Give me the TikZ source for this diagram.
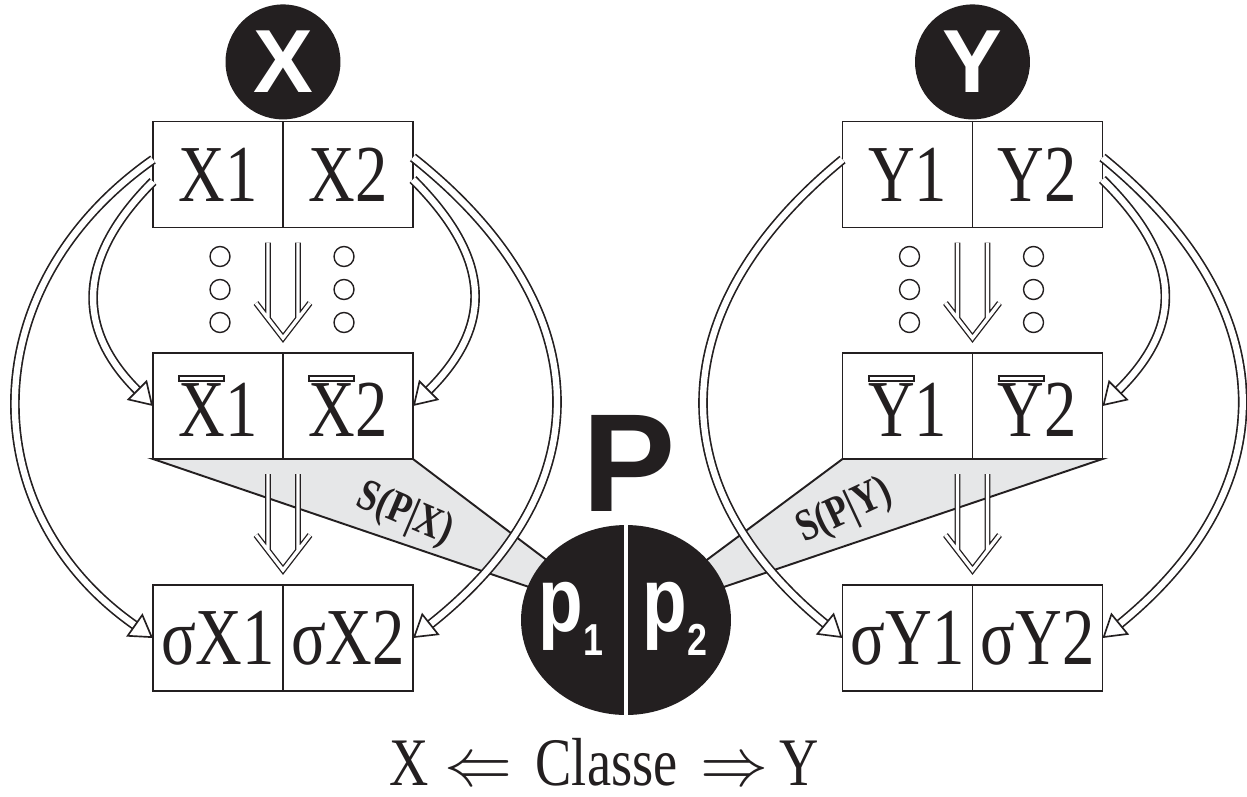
\RequirePackage{fix-cm}
\documentclass[tikz,border=0pt]{standalone}
\usepackage{fontspec}
\setmainfont{Liberation Serif}[FakeStretch=0.8]
\newfontfamily\headsans{Liberation Sans}
\newfontfamily\narrowsans{Liberation Sans}[FakeStretch=0.8]
\usepackage{xcolor}
\usepackage{tikz}
\usetikzlibrary{calc,arrows.meta,positioning,shapes.geometric}
\definecolor{ink}{HTML}{231F20}
\definecolor{wedgegray}{HTML}{E6E7E8}
\newcommand{\barred}[1]{\setbox0\hbox{#1}%
  \rlap{\raisebox{0.70em}{\setlength\fboxsep{0pt}\setlength\fboxrule{1.1pt}%
    \framebox{\rule{0pt}{1.6pt}\rule{\dimexpr\wd0-2.2pt\relax}{0pt}}}}#1}
\tikzset{
  cell/.style={draw=ink,line width=1.1pt,minimum width=2.6cm,minimum height=2.12cm,inner sep=0pt,outer sep=0pt,text=ink,font=\fontsize{46}{48}\selectfont},
  disc/.style={circle,fill=ink,minimum size=2.3cm,inner sep=0pt,text=white,font=\headsans\bfseries\fontsize{51}{51}\selectfont},
  dbl/.style={draw=ink,line width=0.95pt,double=white,double distance=3.6pt,-{Triangle[open,fill=white,length=13pt,width=16pt,line width=0.95pt]}},
  hol/.style={draw=ink,line width=0.75pt,double=white,double distance=1.9pt,line join=miter},
  dot/.style={draw=ink,line width=0.8pt,fill=white},
  wedge/.style={fill=wedgegray,draw=ink,line width=1.1pt,line join=miter},
  lbl/.style={inner sep=0pt,text=ink,font=\bfseries\fontsize{25.6}{26}\selectfont},
  ptext/.style={inner sep=0pt,text=white,font=\narrowsans\bfseries\fontsize{52}{52}\selectfont}
}
\begin{document}
\begin{tikzpicture}[x=0.02cm,y=-0.02cm]
\useasboundingbox (0,0) rectangle (1247,796);
% X column
\node[cell] (xa) at (218,174.5) {X1};
\node[cell,right=0pt of xa] (xb) {X2};
\node[cell] (xma) at (218,406) {\barred{X}1};
\node[cell,right=0pt of xma] (xmb) {\barred{X}2};
\node[cell] (xsa) at (218,638) {σX1};
\node[cell,right=0pt of xsa] (xsb) {σX2};
\node[disc,above=1pt of xa.north east] (xc) {X};
% Y column
\node[cell] (ya) at (907.5,174.5) {Y1};
\node[cell,right=0pt of ya] (yb) {Y2};
\node[cell] (yma) at (907.5,406) {\barred{Y}1};
\node[cell,right=0pt of yma] (ymb) {\barred{Y}2};
\node[cell] (ysa) at (907.5,638) {σY1};
\node[cell,right=0pt of ysa] (ysb) {σY2};
\node[disc,above=1pt of ya.north east] (yc) {Y};
% wedges towards P
\coordinate (pm) at (626,620);
\draw[wedge] (xma.south west) -- (xmb.south east) -- (pm) -- cycle;
\draw[wedge] (yma.south west) -- (ymb.south east) -- (pm) -- cycle;
\node[lbl,rotate=-23] (sx) at (405,515) {S(P|X)};
\node[lbl,rotate=25] (sy) at (845,512) {S(P|Y)};
% dots
\foreach \b in {xa,ya}
  \foreach \dx in {67,191}
    \foreach \dy in {29,62,95}
      \draw[dot] ($(\b.south west)+(\dx,\dy)$) circle (0.2cm);
% hollow down arrows
\foreach \a/\b in {xa/xma,xma/xsa,ya/yma,yma/ysa}{
  \coordinate (tip) at ($(\b.north east)+(0,-15)$);
  \draw[hol] ($(\a.south east)+(-15,15)$) -- ($(tip)+(-15,-20)$)
    ($(\a.south east)+(15,15)$) -- ($(tip)+(15,-20)$)
    ($(tip)+(-27,-35)$) -- (tip) -- ($(tip)+(27,-35)$);
}
% curved arrows
\draw[dbl] ([yshift=0.3cm]xa.west) .. controls +(-181,127) and +(-181,-127) .. (xsa.west);
\draw[dbl] ([yshift=-0.14cm]xa.west) .. controls +(-77,77) and +(-77,-77) .. (xma.west);
\draw[dbl] ([yshift=0.34cm]xb.east) .. controls +(189,150) and +(189,-150) .. (xsb.east);
\draw[dbl] ([yshift=-0.1cm]xb.east) .. controls +(80,80) and +(80,-80) .. (xmb.east);
\draw[dbl] ([yshift=0.3cm]ya.west) .. controls +(-183,150) and +(-183,-150) .. (ysa.west);
\draw[dbl] ([yshift=0.34cm]yb.east) .. controls +(184,150) and +(184,-150) .. (ysb.east);
\draw[dbl] ([yshift=-0.1cm]yb.east) .. controls +(81,80) and +(81,-80) .. (ymb.east);
% P
\node[ellipse,fill=ink,minimum width=4.2cm,minimum height=3.8cm,inner sep=0pt] (pc) at (pm) {};
\draw[white,line width=2.3pt] (pc.north) -- (pc.south);
\node[ptext] (p1) at (571,619) {p\raisebox{-14pt}{\fontsize{25.5}{26}\selectfont 1}};
\node[ptext] (p2) at (675,619) {p\raisebox{-14pt}{\fontsize{25.5}{26}\selectfont 2}};
\node[inner sep=0pt,text=ink,font=\headsans\bfseries\fontsize{79.5}{80}\selectfont,above=0.26cm of pc,xshift=0.06cm] (ptitle) {P};
\node[inner sep=0pt,text=ink,font=\fontsize{38.7}{40}\selectfont] (cls) at (604,762)
  {X\hspace{9pt}$\Leftarrow$\hspace{13pt}Classe\hspace{13pt}$\Rightarrow$\hspace{6pt}Y};
\end{tikzpicture}
\end{document}
